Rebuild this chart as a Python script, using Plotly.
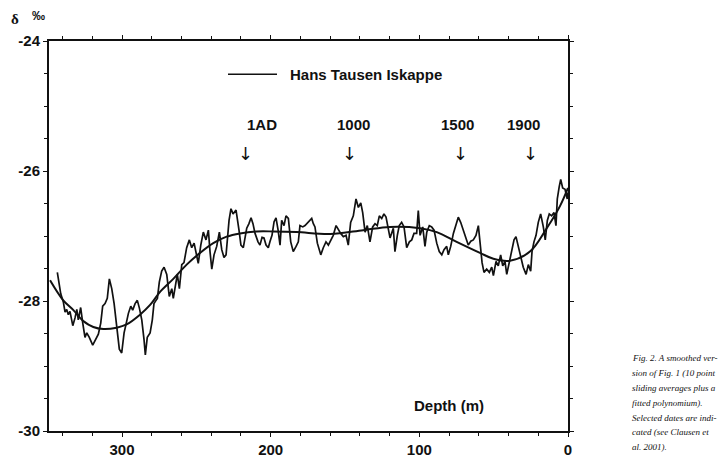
import plotly.graph_objects as go

# 10-point sliding averages of delta-18O along the Hans Tausen ice core
depth_raw = [343.5, 341.2, 339.5, 338.3, 337.2, 336.1, 335.0, 333.1, 331.6, 330.4,
             329.4, 327.8, 326.4, 324.9, 323.7, 322.0, 319.7, 318.1, 315.9, 314.3,
             313.0, 311.4, 309.9, 308.5, 306.9, 305.3, 303.6, 301.8, 300.2, 298.6,
             297.3, 295.7, 294.1, 292.8, 291.2, 289.7, 288.3, 286.7, 285.2, 284.3,
             283.0, 281.1, 279.6, 278.5, 277.1, 276.2, 274.9, 273.3, 271.7, 269.9,
             268.2, 266.5, 265.5, 264.3, 262.8, 261.4, 259.8, 258.3, 256.5, 254.7,
             253.1, 251.5, 250.2, 248.7, 247.0, 245.3, 243.5, 241.9, 240.8, 239.6,
             238.1, 236.3, 234.5, 232.9, 231.4, 230.0, 228.0, 226.7, 225.3, 223.3,
             221.3, 220.0, 218.4, 216.1, 214.6, 213.2, 211.9, 210.5, 208.5, 207.2,
             205.8, 204.5, 203.1, 201.6, 200.4, 199.1, 197.7, 196.4, 195.0, 193.7,
             192.6, 191.0, 189.7, 188.1, 186.5, 184.8, 182.9, 181.4, 180.3, 178.4,
             176.9, 174.7, 172.4, 171.3, 170.2, 168.6, 166.3, 164.6, 162.8, 161.2,
             159.6, 157.9, 156.0, 154.5, 152.9, 151.1, 149.3, 147.8, 146.2, 144.4,
             142.6, 141.0, 139.4, 138.1, 136.5, 135.0, 133.2, 131.4, 129.8, 128.3,
             126.9, 125.3, 123.8, 122.4, 121.5, 119.7, 117.5, 116.4, 114.8, 113.5,
             111.9, 110.3, 108.5, 106.7, 105.1, 103.6, 101.8, 100.7, 99.5, 97.7,
             96.2, 95.0, 93.3, 91.7, 90.1, 88.3, 86.6, 84.9, 83.4, 81.6,
             80.5, 78.9, 77.1, 75.3, 73.8, 72.2, 70.4, 68.6, 67.1, 65.4,
             63.7, 61.9, 60.3, 59.2, 57.8, 56.5, 54.7, 52.9, 51.3, 50.2,
             48.4, 46.9, 45.3, 43.9, 42.4, 41.2, 39.5, 37.9, 36.3, 35.0,
             33.4, 31.8, 30.1, 28.2, 26.7, 25.1, 24.2, 22.9, 21.5, 20.0,
             18.4, 16.6, 15.3, 13.9, 12.6, 11.0, 9.4, 8.1, 7.2, 5.9,
             4.9, 3.6, 2.0, 0.5, 0.0]
d18o_raw = [-27.56, -27.89, -28.01, -28.17, -28.13, -28.21, -28.16, -28.38, -28.26, -28.13,
            -28.29, -28.10, -28.34, -28.56, -28.49, -28.56, -28.68, -28.61, -28.51, -28.34,
            -28.08, -28.04, -27.96, -27.66, -27.81, -28.04, -28.34, -28.74, -28.80, -28.49,
            -28.36, -28.19, -28.08, -28.14, -28.04, -27.99, -28.11, -28.29, -28.59, -28.83,
            -28.56, -28.49, -28.29, -28.04, -27.99, -27.96, -27.71, -27.54, -27.48, -27.59,
            -27.93, -27.81, -27.96, -27.76, -27.59, -27.81, -27.44, -27.41, -27.18, -27.06,
            -27.18, -27.11, -27.26, -27.42, -27.14, -26.94, -27.06, -26.91, -27.24, -27.51,
            -27.29, -27.16, -26.94, -27.21, -27.33, -27.29, -26.76, -26.58, -26.66, -26.60,
            -26.91, -27.14, -27.18, -26.88, -26.81, -26.72, -26.81, -26.96, -27.09, -27.14,
            -27.02, -27.03, -27.14, -27.18, -27.08, -26.99, -26.78, -26.72, -26.91, -27.14,
            -26.76, -26.84, -26.69, -26.73, -27.09, -27.24, -27.16, -27.09, -26.84, -26.86,
            -26.84, -26.79, -26.73, -26.81, -26.86, -27.11, -27.29, -27.18, -27.09, -27.14,
            -27.06, -26.99, -26.84, -26.91, -26.96, -27.01, -26.99, -27.14, -26.79, -26.69,
            -26.43, -26.56, -26.49, -26.64, -26.94, -26.84, -27.09, -26.86, -26.81, -26.84,
            -26.69, -26.73, -26.66, -26.71, -26.84, -27.03, -26.88, -27.24, -26.99, -26.84,
            -26.79, -26.86, -27.18, -27.09, -27.06, -26.96, -26.96, -26.61, -26.99, -26.86,
            -27.16, -26.94, -26.84, -26.86, -26.91, -27.11, -27.24, -27.29, -27.21, -27.16,
            -27.29, -27.16, -26.96, -26.81, -26.71, -26.79, -26.91, -27.03, -27.14, -27.08,
            -27.06, -26.99, -26.84, -27.09, -27.41, -27.56, -27.51, -27.56, -27.48, -27.61,
            -27.39, -27.46, -27.29, -27.46, -27.39, -27.59, -27.39, -27.24, -27.06, -27.01,
            -27.18, -27.33, -27.48, -27.59, -27.44, -27.54, -27.24, -27.09, -26.99, -26.79,
            -26.66, -26.86, -27.06, -26.76, -26.66, -26.69, -26.64, -26.84, -26.43, -26.24,
            -26.13, -26.26, -26.28, -26.43, -26.33]

# Fitted polynomial through the smoothed record
depth_fit = [348.4, 339.5, 332.7, 326.0, 319.3, 312.6, 303.6, 296.9, 287.9, 281.1,
             274.4, 265.5, 256.5, 247.5, 238.6, 229.6, 220.6, 209.4, 198.2, 182.5,
             160.0, 137.7, 119.7, 99.5, 88.3, 74.9, 59.2, 50.2, 39.0, 25.6,
             14.3, 5.4, 0.0]
d18o_fit = [-27.68, -27.99, -28.14, -28.31, -28.40, -28.43, -28.41, -28.36, -28.21, -28.06,
            -27.86, -27.66, -27.44, -27.26, -27.11, -27.01, -26.96, -26.93, -26.93, -26.94,
            -26.97, -26.91, -26.86, -26.88, -26.94, -27.09, -27.26, -27.35, -27.38, -27.24,
            -26.88, -26.54, -26.26]

# Selected dates and the depths they point to
date_labels = ["1AD", "1000", "1500", "1900"]
date_depths = [217.0, 147.0, 72.0, 25.5]
label_shift = [17, 4, -3, -7]

x_ticks = [300, 200, 100, 0]
y_ticks = [-24, -26, -28, -30]

caption_lines = [
    "Fig. 2. A smoothed ver-",
    "sion of Fig. 1 (10 point",
    "sliding averages plus a",
    "fitted polynomium).",
    "Selected dates are indi-",
    "cated (see Clausen et",
    "al. 2001).",
]

SANS = "Liberation Sans, Arial, sans-serif"
SERIF = "Liberation Serif, Times New Roman, serif"
INK = "#111111"

fig = go.Figure()
fig.add_trace(go.Scatter(x=depth_raw, y=d18o_raw, mode="lines",
                         line=dict(color=INK, width=1.7), hoverinfo="skip",
                         name="Hans Tausen Iskappe"))
fig.add_trace(go.Scatter(x=depth_fit, y=d18o_fit, mode="lines",
                         line=dict(color=INK, width=2, shape="spline", smoothing=1.0),
                         hoverinfo="skip", name="fit"))

L, R, T, B = 49, 150, 41, 29
W, H = 718, 470
pw, ph = W - L - R, H - T - B


def px(xp):
    return (xp - L) / pw


def py(yp):
    return (H - B - yp) / ph


bold = dict(family=SANS, size=15, color=INK, weight="bold")
ann = []

# legend entry
fig.add_shape(type="line", xref="paper", yref="paper",
              x0=px(228), x1=px(277), y0=py(75), y1=py(75),
              line=dict(color=INK, width=1.5))
ann.append(dict(text="Hans Tausen Iskappe", xref="paper", yref="paper",
                x=px(288), y=py(75), xanchor="left", yanchor="middle",
                showarrow=False, font=bold))

# date labels and arrows
for lab, d, s in zip(date_labels, date_depths, label_shift):
    ann.append(dict(text=lab, xref="x", yref="paper", x=d, y=py(127),
                    xshift=s, xanchor="center", yanchor="middle",
                    showarrow=False, font=bold))
    ann.append(dict(text="↓", xref="x", yref="paper", x=d, y=py(156),
                    xanchor="center", yanchor="middle", showarrow=False,
                    font=dict(family="DejaVu Sans, sans-serif", size=18, color=INK)))

# axis titles
ann.append(dict(text="Depth (m)", xref="paper", yref="paper", x=px(449), y=py(415),
                xanchor="center", yanchor="middle", showarrow=False, font=bold))
ann.append(dict(text="δ", xref="paper", yref="paper", x=px(15), y=py(18),
                xanchor="center", yanchor="middle", showarrow=False,
                font=dict(family=SERIF, size=15, color=INK, weight="bold")))
ann.append(dict(text="‰", xref="paper", yref="paper", x=px(38), y=py(15),
                xanchor="center", yanchor="middle", showarrow=False,
                font=dict(family=SANS, size=13, color=INK, weight="bold")))

# figure caption
for i, line in enumerate(caption_lines):
    ann.append(dict(text=line, xref="paper", yref="paper",
                    x=px(630), y=py(366 + 15.3 * i), xanchor="left", yanchor="middle",
                    showarrow=False,
                    font=dict(family=SERIF, size=9, color=INK, style="italic")))

axis_common = dict(showline=True, linecolor=INK, linewidth=2, mirror="ticks",
                   ticks="outside", ticklen=4, tickwidth=1.2, tickcolor=INK,
                   showgrid=False, zeroline=False,
                   tickfont=dict(family=SANS, size=15, color=INK, weight="bold"))

fig.update_xaxes(range=[349.1, 0], tickvals=x_ticks,
                 ticktext=[str(v) for v in x_ticks],
                 minor=dict(dtick=20, tick0=0, ticks="outside", ticklen=3,
                            tickcolor=INK, tickwidth=1),
                 **axis_common)
fig.update_yaxes(range=[-30, -24], tickvals=y_ticks,
                 ticktext=[str(v) for v in y_ticks],
                 minor=dict(dtick=0.5, tick0=-30, ticks="outside", ticklen=3,
                            tickcolor=INK, tickwidth=1),
                 **axis_common)

fig.update_layout(width=W, height=H, margin=dict(l=L, r=R, t=T, b=B),
                  paper_bgcolor="white", plot_bgcolor="white",
                  showlegend=False, annotations=ann)

fig.write_html("out.html")
